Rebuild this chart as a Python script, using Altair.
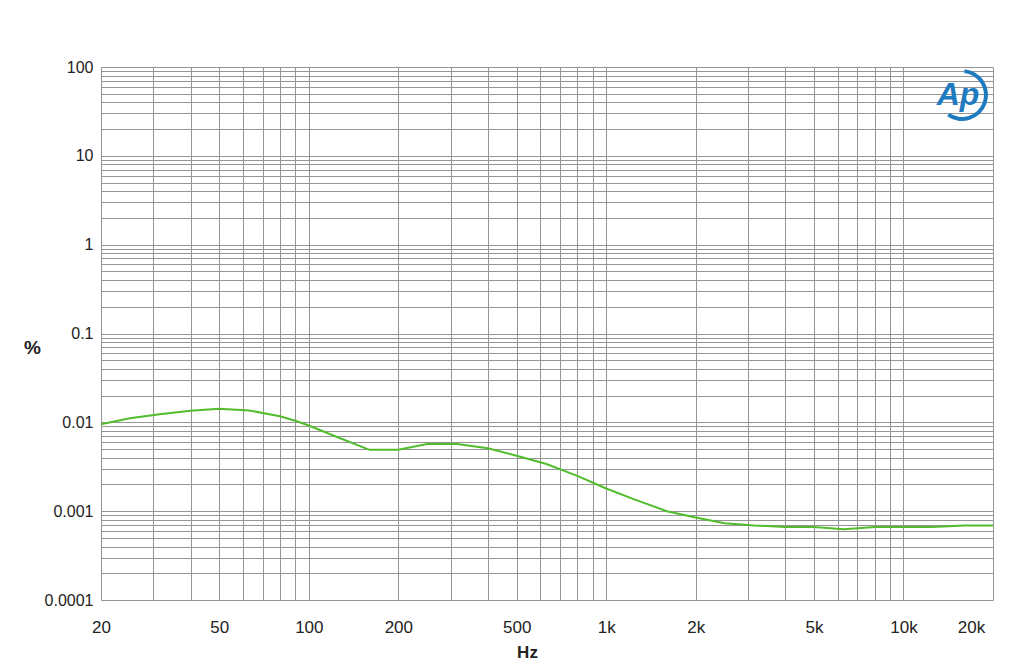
import altair as alt
import pandas as pd

# Frequency response data (THD+N %)
freq_hz = [20, 25, 31.5, 40, 50, 63, 80, 90, 100, 125, 160, 200, 250, 315, 400, 500,
           630, 800, 1000, 1250, 1600, 2000, 2500, 3150, 4000, 5000, 6300, 8000,
           10000, 12500, 16000, 20000]
thd_pct = [0.0095, 0.0111, 0.0123, 0.0135, 0.0142, 0.0136, 0.0117, 0.0104, 0.0092,
           0.0068, 0.0049, 0.0049, 0.0057, 0.0057, 0.0051, 0.0042,
           0.0034, 0.0025, 0.0018, 0.00135, 0.0010, 0.00085, 0.00073, 0.00069,
           0.000665, 0.000665, 0.000627, 0.000665, 0.000665, 0.000665, 0.00069, 0.00069]

x_label_values = [20, 50, 100, 200, 500, 1000, 2000, 5000, 10000, 20000]
y_label_values = [0.0001, 0.001, 0.01, 0.1, 1, 10, 100]

x_grid = [m * 10 ** e for e in range(1, 5) for m in range(1, 10) if 20 <= m * 10 ** e <= 20000]
y_grid = [round(m * 10.0 ** e, 8) for e in range(-4, 2) for m in range(1, 10)] + [100]

df = pd.DataFrame({"freq": freq_hz, "pct": thd_pct})

GRID = "#959595"
NARROW = "Liberation Sans Narrow, Arial Narrow, Liberation Sans"

x_axis = alt.Axis(
    values=x_grid,
    grid=True, gridColor=GRID, gridWidth=1,
    ticks=False, domain=False,
    labelExpr="indexof(" + str(x_label_values) + ", datum.value) >= 0 ? (datum.value >= 1000 ? (datum.value / 1000) + 'k' : '' + datum.value) : ''",
    labelFont=NARROW,
    labelFontSize=17, labelColor="#222222", labelPadding=19,
    labelOffset=alt.condition("datum.value > 15000", alt.value(-22), alt.value(0)),
    labelOverlap=False, labelBound=False, labelFlush=False,
    title="Hz", titleFont=NARROW,
    titleFontSize=17, titleFontWeight="bold", titleColor="#222222",
    titleX=426, titleY=52, titleBaseline="middle", titleAlign="center",
)

y_axis = alt.Axis(
    values=y_grid,
    grid=True, gridColor=GRID, gridWidth=1,
    ticks=False, domain=False,
    format="~g",
    labelExpr="indexof(" + str(y_label_values) + ", datum.value) >= 0 ? datum.label : ''",
    labelFont="Liberation Sans, Arial", labelFontSize=16, labelColor="#222222",
    labelPadding=8, labelOverlap=False, labelBound=False, labelFlush=False,
    title="%", titleFont="Liberation Sans, Arial", titleFontSize=19,
    titleFontWeight="bold", titleColor="#222222", titleAngle=0,
    titleX=-69, titleY=280, titleAlign="center", titleBaseline="middle",
)

line = alt.Chart(df).mark_line(color="#52bd2c", strokeWidth=2).encode(
    x=alt.X("freq:Q", scale=alt.Scale(type="log", domain=[20, 20000], nice=False), axis=x_axis),
    y=alt.Y("pct:Q", scale=alt.Scale(type="log", domain=[0.0001, 100], nice=False), axis=y_axis),
)

logo_df = pd.DataFrame({"t": ["Ap"]})
logo_text = alt.Chart(logo_df).mark_text(
    font="Liberation Sans, Arial", fontSize=32, fontStyle="italic", fontWeight="bold",
    color="#1f7bbf", align="center", baseline="middle",
).encode(text="t:N", x=alt.value(857), y=alt.value(28))

logo_arc = alt.Chart(logo_df).mark_arc(
    theta=0.1, theta2=3.75, radius=26, radius2=22, color="#1f7bbf",
).encode(x=alt.value(861), y=alt.value(28))

chart = alt.layer(line, logo_arc, logo_text).properties(
    width=892, height=533,
    autosize=alt.AutoSizeParams(type="none"),
    padding={"left": 93, "top": 59, "right": 23, "bottom": 64},
).configure_view(stroke="#8a8a8a", strokeWidth=1).configure(background="white")

chart.save("out.html", embed_options={"renderer": "svg", "actions": False})
